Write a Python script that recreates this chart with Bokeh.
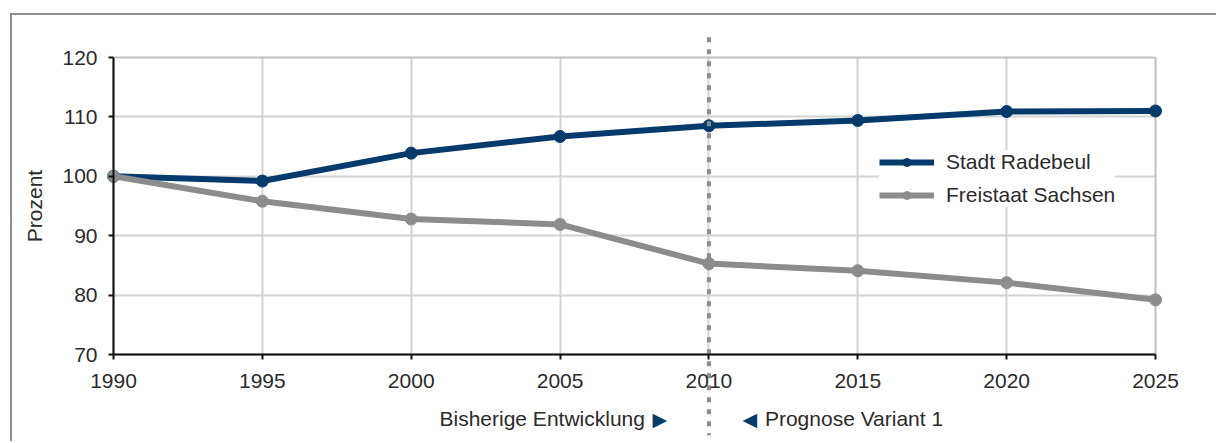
from bokeh.plotting import figure
from bokeh.models import Label, BoxAnnotation, FixedTicker, Legend, LegendItem
from bokeh.embed import file_html
from bokeh.resources import INLINE

# Bevölkerungsentwicklung, Index 1990 = 100
years = [1990, 1995, 2000, 2005, 2010, 2015, 2020, 2025]
radebeul = [100.0, 99.2, 103.9, 106.7, 108.5, 109.4, 110.9, 111.0]
sachsen = [100.0, 95.8, 92.8, 91.9, 85.3, 84.1, 82.1, 79.2]
y_ticks = [70, 80, 90, 100, 110, 120]
divider_year = 2010

FONT = "Liberation Sans"
NAVY = "#053a6d"
GREY = "#8c8c8c"
TEXT = "#2b2b2b"

# canvas size and the pixel box that holds the 1990-2025 / 70-120 area
W, H = 1206, 428
AREA_LEFT, AREA_TOP, AREA_W, AREA_H = 101, 42, 1042, 297
x0, x1 = years[0], years[-1]
y0, y1 = y_ticks[0], y_ticks[-1]
px_x = AREA_W / (x1 - x0)
px_y = AREA_H / (y1 - y0)
x_range = (x0 - AREA_LEFT / px_x, x1 + (W - AREA_LEFT - AREA_W) / px_x)
y_range = (y0 - (H - AREA_TOP - AREA_H) / px_y, y1 + AREA_TOP / px_y)

p = figure(
    width=W, height=H,
    x_range=x_range, y_range=y_range,
    output_backend="svg", toolbar_location=None,
    min_border=0,
    background_fill_color="white", border_fill_color="white",
)
p.styles = {
    "margin-left": "10px", "margin-top": "13px",
    "border-left": "2px solid #8f8f8f", "border-top": "2px solid #8f8f8f",
}
p.outline_line_color = None

# axes pinned to the corner of the value area
p.xaxis.fixed_location = y0
p.yaxis.fixed_location = x0
p.xaxis.bounds = (x0, x1)
p.yaxis.bounds = (y0, y1)
p.xaxis.ticker = FixedTicker(ticks=years)
p.yaxis.ticker = FixedTicker(ticks=y_ticks)
for ax in (p.xaxis[0], p.yaxis[0]):
    ax.axis_line_color = "#111111"
    ax.axis_line_width = 2
    ax.major_tick_line_color = "#111111"
    ax.major_tick_line_width = 2
    ax.major_tick_out = 5
    ax.major_tick_in = 0
    ax.minor_tick_line_color = None
    ax.major_label_text_font = FONT
    ax.major_label_text_font_size = "21px"
    ax.major_label_text_color = TEXT
p.xaxis.major_label_standoff = 14
p.yaxis.major_label_standoff = 11
p.yaxis.axis_label = "Prozent"
p.yaxis.axis_label_text_font = FONT
p.yaxis.axis_label_text_font_size = "21px"
p.yaxis.axis_label_text_font_style = "normal"
p.yaxis.axis_label_text_color = TEXT
p.yaxis.axis_label_standoff = 13

for g in (p.xgrid[0], p.ygrid[0]):
    g.grid_line_color = "#d3d3d3"
    g.grid_line_width = 2
p.xgrid.bounds = (x0, x1)
p.xgrid.cross_bounds = (y0, y1)
p.ygrid.bounds = (y0, y1)
p.ygrid.cross_bounds = (x0, x1)

frame_box = BoxAnnotation(left=x0, right=x1, bottom=y0, top=y1,
                          fill_alpha=0, line_color="#9a9a9a", line_width=2,
                          level="underlay")
p.add_layout(frame_box)

l1 = p.line(years, radebeul, line_color=NAVY, line_width=6)
c1 = p.scatter(years, radebeul, size=12, fill_color=NAVY, line_color=NAVY)
l2 = p.line(years, sachsen, line_color=GREY, line_width=6)
c2 = p.scatter(years, sachsen, size=12, fill_color=GREY, line_color=GREY)

# Trennlinie zwischen bisheriger Entwicklung und Prognose
p.segment(x0=[divider_year], y0=[123.4], x1=[divider_year], y1=[56.4],
          line_color=GREY, line_width=4, line_dash="5 7")

legend = Legend(
    items=[
        LegendItem(label="Stadt Radebeul", renderers=[l1, c1]),
        LegendItem(label="Freistaat Sachsen", renderers=[l2, c2]),
    ],
    location=(867, 236),
    padding=8, margin=0, spacing=9,
    glyph_width=55, glyph_height=20, label_height=20,
    label_standoff=12,
    label_text_font=FONT, label_text_font_size="21px",
    label_text_color=TEXT,
    border_line_color=None,
    background_fill_color="white", background_fill_alpha=1.0,
)
p.add_layout(legend)

label_y = 59.2
p.add_layout(Label(x=divider_year, y=label_y, x_offset=-64, text="Bisherige Entwicklung",
                   text_align="right", text_baseline="middle",
                   text_font=FONT, text_font_size="21px", text_color=TEXT))
p.add_layout(Label(x=divider_year, y=label_y, x_offset=-49, text="\u25b6",
                   text_align="center", text_baseline="middle",
                   text_font="DejaVu Sans", text_font_size="19px", text_color=NAVY))
p.add_layout(Label(x=divider_year, y=label_y, x_offset=41, text="\u25c0",
                   text_align="center", text_baseline="middle",
                   text_font="DejaVu Sans", text_font_size="19px", text_color=NAVY))
p.add_layout(Label(x=divider_year, y=label_y, x_offset=56, text="Prognose Variant 1",
                   text_align="left", text_baseline="middle",
                   text_font=FONT, text_font_size="21px", text_color=TEXT))

open("out.html", "w").write(file_html(p, INLINE))
